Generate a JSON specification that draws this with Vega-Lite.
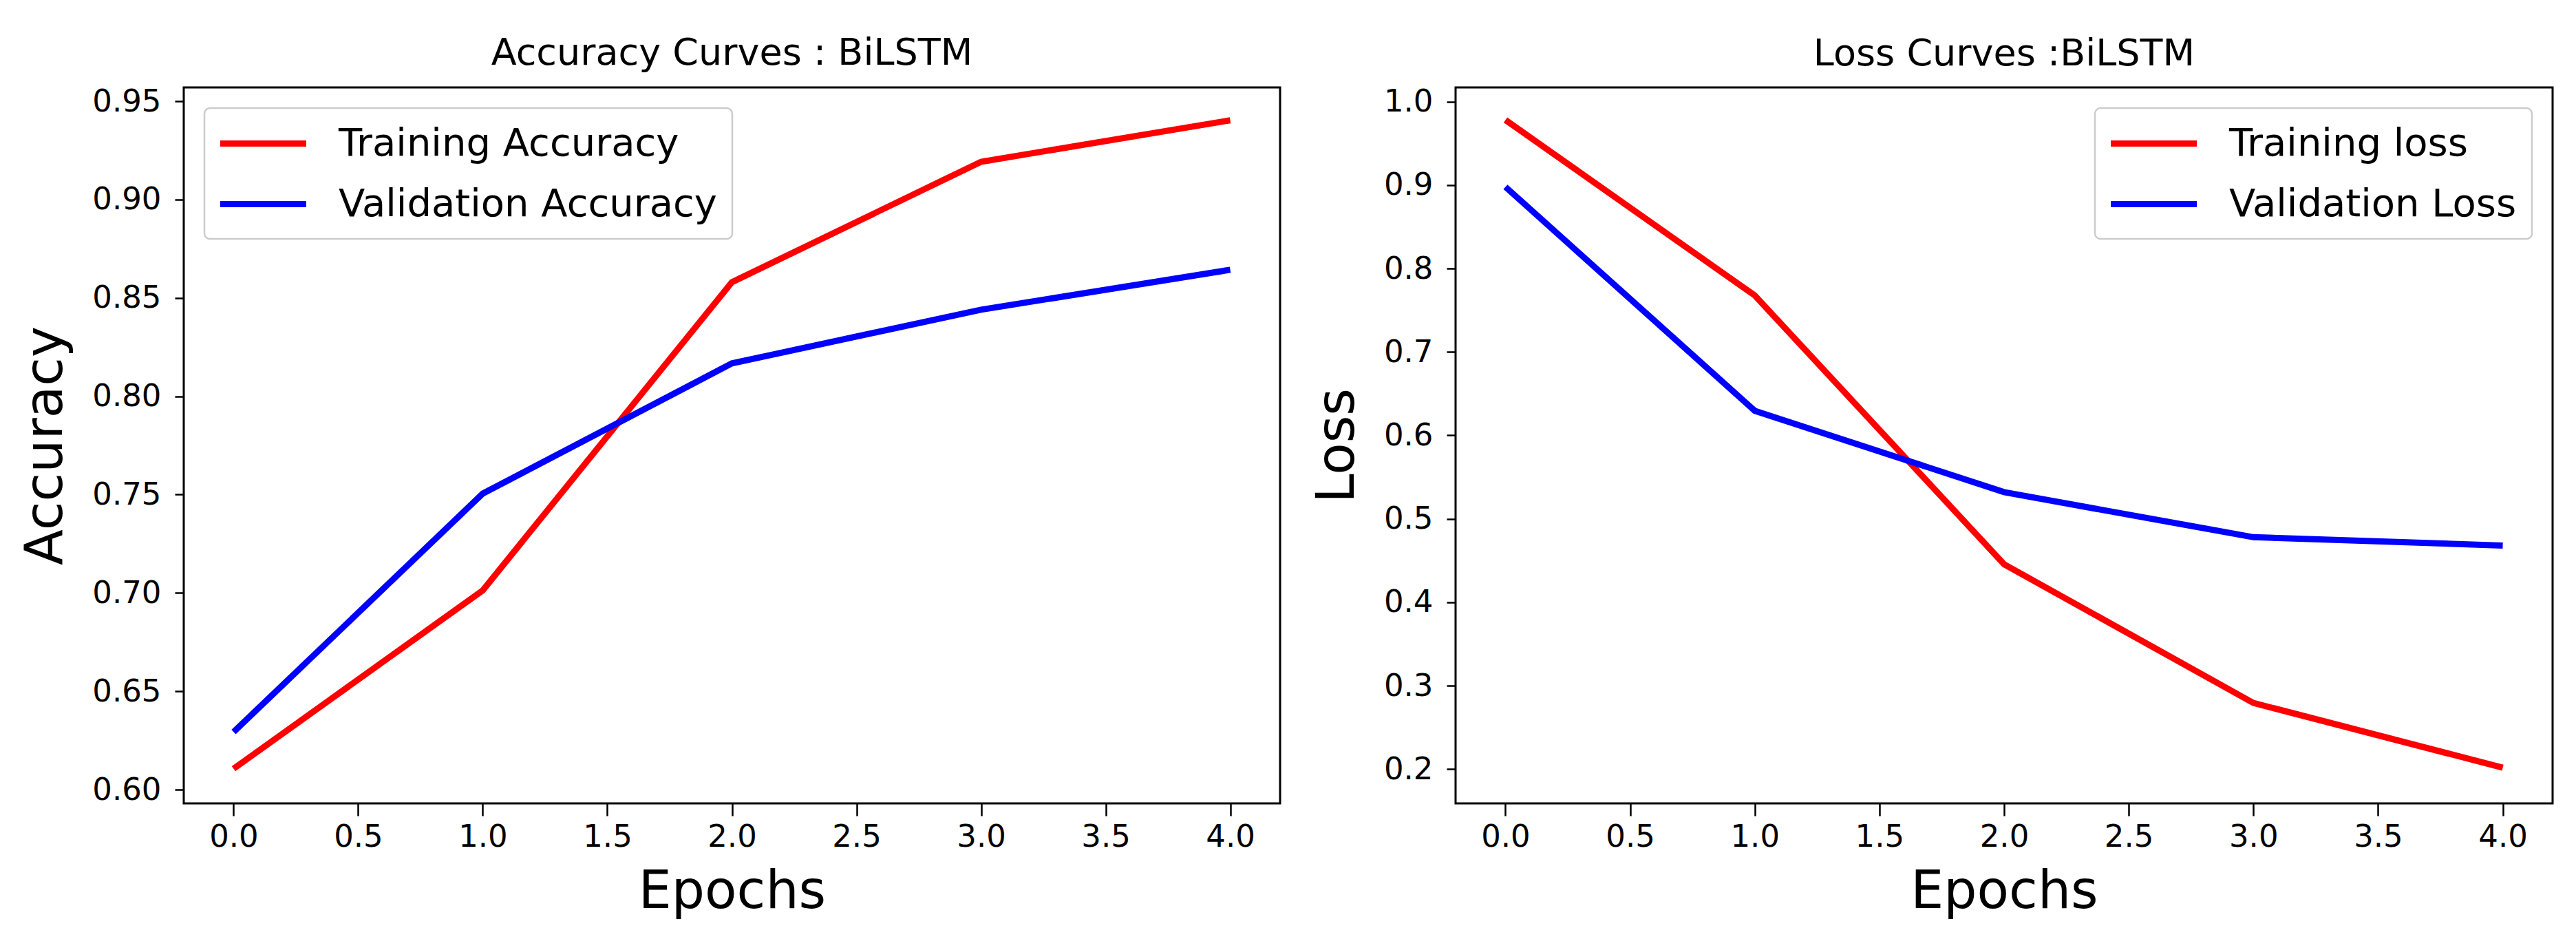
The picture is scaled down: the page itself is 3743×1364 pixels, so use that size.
{
  "$schema": "https://vega.github.io/schema/vega-lite/v6.json",
  "background": "white",
  "padding": {"left": 27, "top": 49, "right": 5, "bottom": 5},
  "datasets": {
    "accuracy": [
      {"epoch": 0, "value": 0.6106, "series": "Training Accuracy"},
      {"epoch": 1, "value": 0.7013, "series": "Training Accuracy"},
      {"epoch": 2, "value": 0.858, "series": "Training Accuracy"},
      {"epoch": 3, "value": 0.9192, "series": "Training Accuracy"},
      {"epoch": 4, "value": 0.9403, "series": "Training Accuracy"},
      {"epoch": 0, "value": 0.6293, "series": "Validation Accuracy"},
      {"epoch": 1, "value": 0.7505, "series": "Validation Accuracy"},
      {"epoch": 2, "value": 0.8167, "series": "Validation Accuracy"},
      {"epoch": 3, "value": 0.844, "series": "Validation Accuracy"},
      {"epoch": 4, "value": 0.8643, "series": "Validation Accuracy"}
    ],
    "loss": [
      {"epoch": 0, "value": 0.978, "series": "Training loss"},
      {"epoch": 1, "value": 0.7677, "series": "Training loss"},
      {"epoch": 2, "value": 0.4456, "series": "Training loss"},
      {"epoch": 3, "value": 0.2794, "series": "Training loss"},
      {"epoch": 4, "value": 0.2018, "series": "Training loss"},
      {"epoch": 0, "value": 0.8978, "series": "Validation Loss"},
      {"epoch": 1, "value": 0.6295, "series": "Validation Loss"},
      {"epoch": 2, "value": 0.532, "series": "Validation Loss"},
      {"epoch": 3, "value": 0.478, "series": "Validation Loss"},
      {"epoch": 4, "value": 0.468, "series": "Validation Loss"}
    ]
  },
  "config": {
    "font": "DejaVu Sans",
    "view": {"stroke": "black", "strokeWidth": 3},
    "title": {"anchor": "middle", "fontSize": 54, "fontWeight": "normal", "color": "black", "offset": 20},
    "axis": {
      "grid": false,
      "domain": false,
      "labelFontSize": 45,
      "labelColor": "black",
      "titleFontSize": 76,
      "titleFontWeight": "normal",
      "titleColor": "black",
      "tickColor": "black",
      "tickWidth": 2.5,
      "labelFlush": false,
      "labelOverlap": false,
      "labelBound": false
    },
    "axisX": {"tickSize": 18, "labelPadding": 8, "titlePadding": 20},
    "axisY": {"tickSize": 13, "labelPadding": 20, "titlePadding": 28},
    "legend": {
      "title": null,
      "labelFontSize": 56,
      "labelColor": "black",
      "labelLimit": 0,
      "padding": 22,
      "rowPadding": 30,
      "cornerRadius": 8,
      "strokeColor": "#cccccc",
      "fillColor": "white",
      "strokeWidth": 2.5,
      "offset": 30
    }
  },
  "spacing": 41,
  "resolve": {
    "scale": {"x": "independent", "y": "independent", "color": "independent"},
    "legend": {"color": "independent"},
    "axis": {"x": "independent", "y": "independent"}
  },
  "hconcat": [
    {
      "width": 1593,
      "height": 1040,
      "data": {"name": "accuracy"},
      "title": {"text": "Accuracy Curves : BiLSTM"},
      "mark": {"type": "line", "strokeWidth": 9},
      "encoding": {
        "x": {
          "field": "epoch", "type": "quantitative",
          "scale": {"domain": [-0.2, 4.2], "nice": false, "zero": false},
          "axis": {"title": "Epochs", "values": [0, 0.5, 1, 1.5, 2, 2.5, 3, 3.5, 4], "format": ".1f"}
        },
        "y": {
          "field": "value", "type": "quantitative",
          "scale": {"domain": [0.593, 0.957], "nice": false, "zero": false},
          "axis": {"title": "Accuracy", "values": [0.6, 0.65, 0.7, 0.75, 0.8, 0.85, 0.9, 0.95], "format": ".2f"}
        },
        "color": {
          "field": "series", "type": "nominal",
          "scale": {"domain": ["Training Accuracy", "Validation Accuracy"], "range": ["#ff0000", "#0000ff"]},
          "legend": {
            "orient": "top-left",
            "symbolType": "M-2.5,0H2.5",
            "symbolSize": 2500,
            "symbolStrokeWidth": 9,
            "symbolOffset": 34,
            "labelOffset": 80
          }
        }
      }
    },
    {
      "width": 1594,
      "height": 1040,
      "data": {"name": "loss"},
      "title": {"text": "Loss Curves :BiLSTM"},
      "mark": {"type": "line", "strokeWidth": 9},
      "encoding": {
        "x": {
          "field": "epoch", "type": "quantitative",
          "scale": {"domain": [-0.2, 4.2], "nice": false, "zero": false},
          "axis": {"title": "Epochs", "values": [0, 0.5, 1, 1.5, 2, 2.5, 3, 3.5, 4], "format": ".1f"}
        },
        "y": {
          "field": "value", "type": "quantitative",
          "scale": {"domain": [0.159, 1.017], "nice": false, "zero": false},
          "axis": {"title": "Loss", "values": [0.2, 0.3, 0.4, 0.5, 0.6, 0.7, 0.8, 0.9, 1.0], "format": ".1f"}
        },
        "color": {
          "field": "series", "type": "nominal",
          "scale": {"domain": ["Training loss", "Validation Loss"], "range": ["#ff0000", "#0000ff"]},
          "legend": {
            "orient": "top-right",
            "symbolType": "M-2.5,0H2.5",
            "symbolSize": 2500,
            "symbolStrokeWidth": 9,
            "symbolOffset": 34,
            "labelOffset": 80
          }
        }
      }
    }
  ]
}
